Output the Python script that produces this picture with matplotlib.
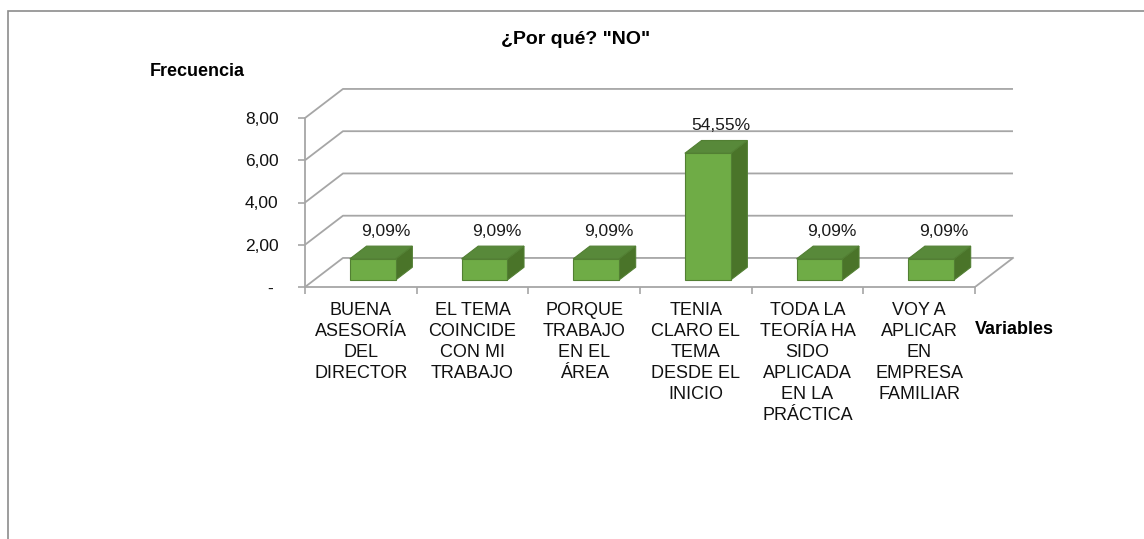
import numpy as np
import matplotlib
matplotlib.use('Agg')
from matplotlib import pyplot as plt
from matplotlib.patches import Polygon, Rectangle


''' data '''
categories = ['BUENA\nASESORÍA\nDEL\nDIRECTOR',
              'EL TEMA\nCOINCIDE\nCON MI\nTRABAJO',
              'PORQUE\nTRABAJO\nEN EL\nÁREA',
              'TENIA\nCLARO EL\nTEMA\nDESDE EL\nINICIO',
              'TODA LA\nTEORÍA HA\nSIDO\nAPLICADA\nEN LA\nPRÁCTICA',
              'VOY A\nAPLICAR\nEN\nEMPRESA\nFAMILIAR']
frecuencia = [1, 1, 1, 6, 1, 1]
porcentaje = ['9,09%', '9,09%', '9,09%', '54,55%', '9,09%', '9,09%']
y_ticks = [0, 2, 4, 6, 8]
y_labels = ['- ', '2,00', '4,00', '6,00', '8,00']


''' matplotlib config '''
plt.rcParams['font.family'] = ['Liberation Sans', 'DejaVu Sans']
W, H = 1144, 539

# fake 3d: depth shift of back wall in data units
DX = 0.34
DY = 1.375

def proj(x, y, d):
  return (x + d*DX, y + d*DY)

front_c = '#6FAC46'
side_c = '#4A7429'
top_c = '#58893A'
edge_c = '#527F33'
grid_c = '#A6A6A6'

fig = plt.figure(figsize=(W/100, H/100), dpi=100)
# axes placed so x=0..6 -> px 305..975, y=0..8 -> px 287..118 (from top)
xmax, ymax = 6.45, 9.6
ax_w = 111.67*xmax/W
ax_h = 21.125*ymax/H
ax = fig.add_axes([305/W, (H-287)/H, ax_w, ax_h])
ax.set_xlim(0, xmax)
ax.set_ylim(0, ymax)
ax.patch.set_visible(False)

# walls / grid
n = len(categories)
for v in y_ticks:
  x0, y0 = proj(0, v, 0)
  x1, y1 = proj(0, v, 1)
  x2, y2 = proj(n, v, 1)
  ax.plot([x0, x1, x2], [y0, y1, y2], color=grid_c, lw=1.3, zorder=1, solid_capstyle='butt')
# floor right edge
xa, ya = proj(n, 0, 0)
xb, yb = proj(n, 0, 1)
ax.plot([xa, xb], [ya, yb], color=grid_c, lw=1.3, zorder=1)

# bars
d1, d2 = 0.24, 0.68
bl, bw = 0.32, 0.41
for i, v in enumerate(frecuencia):
  x0 = i + bl
  x1 = x0 + bw
  front = [proj(x0, 0, d1), proj(x1, 0, d1), proj(x1, v, d1), proj(x0, v, d1)]
  side = [proj(x1, 0, d1), proj(x1, 0, d2), proj(x1, v, d2), proj(x1, v, d1)]
  top = [proj(x0, v, d1), proj(x1, v, d1), proj(x1, v, d2), proj(x0, v, d2)]
  for pts, c in [(side, side_c), (top, top_c), (front, front_c)]:
    ax.add_patch(Polygon(pts, closed=True, facecolor=c, edgecolor=edge_c, lw=0.8, zorder=3))
  lx, ly = proj(i + 0.65 - 0.45*DX, v + 0.72, 0.66)
  ax.text(lx, ly, porcentaje[i], ha='center', va='center', fontsize=12.5, color='#1a1a1a', zorder=4)

# axes styling
for s in ['top', 'right']:
  ax.spines[s].set_visible(False)
ax.spines['left'].set_bounds(0, 8)
ax.spines['bottom'].set_bounds(0, n)
ax.spines['left'].set_color(grid_c)
ax.spines['bottom'].set_color(grid_c)
ax.spines['left'].set_linewidth(1.3)
ax.spines['bottom'].set_linewidth(1.3)

ax.set_yticks(y_ticks)
ax.set_yticklabels(y_labels, fontsize=12.5, color='#111111')
ax.tick_params(axis='y', length=5, width=1.2, color=grid_c, pad=14)

ax.set_xticks(np.arange(n+1))
ax.set_xticklabels([])
ax.tick_params(axis='x', which='major', length=5, width=1.2, color=grid_c)
ax.set_xticks(np.arange(n) + 0.5, minor=True)
ax.set_xticklabels(categories, minor=True, fontsize=13, color='#111111', linespacing=1.32)
ax.tick_params(axis='x', which='minor', length=0, pad=10.5)

# texts
fig.text(576/W, 1 - 40/H, '¿Por qué? "NO"', ha='center', va='center', fontsize=14, fontweight='bold')
fig.text(150/W, 1 - 72/H, 'Frecuencia', ha='left', va='center', fontsize=13, fontweight='bold')
fig.text(975/W, 1 - 329/H, 'Variables', ha='left', va='center', fontsize=13, fontweight='bold')

# chart frame (cut at right / bottom)
fig.add_artist(Rectangle((8/W, -0.2), 1.2, 1.2 + (1 - 11/H) - 1, transform=fig.transFigure,
                         fill=False, edgecolor='#8C8C8C', lw=1.2))

fig.savefig('out.png', dpi=100)

# EOF
